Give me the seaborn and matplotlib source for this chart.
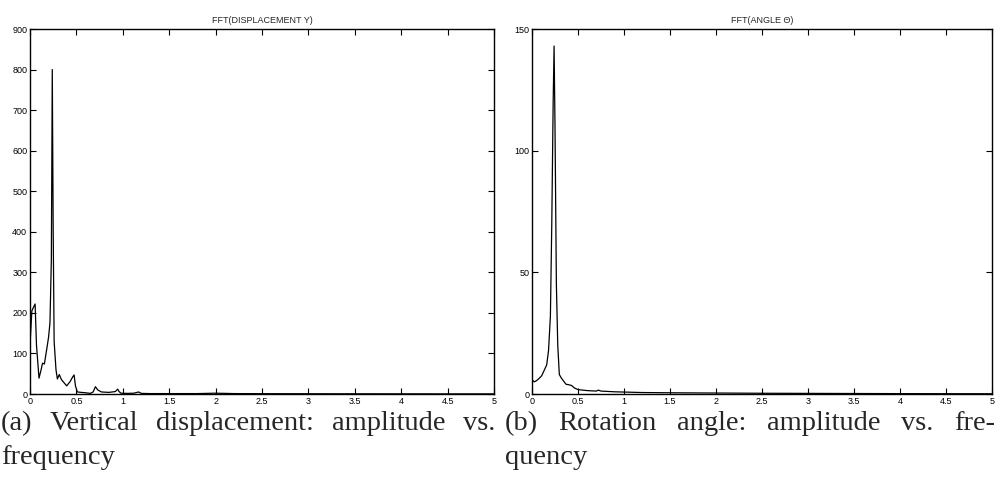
import numpy as np
import pandas as pd
import matplotlib
matplotlib.use("Agg")
import matplotlib.pyplot as plt
import seaborn as sns

# ---- data ----
freq_disp = [0.0, 0.02, 0.04, 0.055, 0.07, 0.097, 0.12, 0.135, 0.155, 0.18, 0.2, 0.215, 0.23,
             0.24, 0.25, 0.26, 0.28, 0.295, 0.315, 0.34, 0.37, 0.395, 0.43, 0.46, 0.475,
             0.49, 0.51, 0.55, 0.6, 0.65, 0.68, 0.705, 0.73, 0.77, 0.85, 0.92, 0.945, 0.96,
             0.98, 1.05, 1.12, 1.17, 1.2, 1.3, 1.5, 1.8, 2.0, 2.2, 2.5, 3.0, 3.5, 4.0, 4.5, 5.0]
amp_disp = [120, 205, 215, 222, 120, 39, 60, 76, 74, 110, 140, 175, 330,
            800, 400, 130, 60, 37, 48, 35, 27, 20, 30, 42, 47,
            20, 5, 4, 3, 1.5, 5, 18, 10, 5, 4, 6, 12, 6,
            2, 1.5, 2, 5, 1.5, 1, 1, 1, 2, 1, 0.8, 0.6, 0.5, 0.4, 0.3, 0.3]

freq_ang = [0.0, 0.01, 0.025, 0.05, 0.08, 0.105, 0.13, 0.16, 0.18, 0.2, 0.215, 0.23, 0.24,
            0.25, 0.265, 0.28, 0.297, 0.32, 0.35, 0.37, 0.4, 0.43, 0.46, 0.5, 0.6, 0.7,
            0.72, 0.75, 0.9, 1.0, 1.2, 1.5, 2.0, 2.5, 3.0, 3.5, 4.0, 4.5, 5.0]
amp_ang = [4.5, 5.5, 5.0, 5.5, 6.5, 7.5, 9.5, 12, 18, 32, 70, 120, 143,
           110, 45, 20, 8, 6.5, 5, 4, 3.8, 3.5, 2.5, 1.8, 1.4, 1.2,
           1.6, 1.2, 0.9, 0.8, 0.6, 0.5, 0.4, 0.3, 0.25, 0.2, 0.15, 0.12, 0.1]

xticks = [0, 0.5, 1, 1.5, 2, 2.5, 3, 3.5, 4, 4.5, 5]
xticklabels = ["0", "0.5", "1", "1.5", "2", "2.5", "3", "3.5", "4", "4.5", "5"]
yticks_disp = [0, 100, 200, 300, 400, 500, 600, 700, 800, 900]
yticks_ang = [0, 50, 100, 150]
titles = ["FFT(DISPLACEMENT Y)", "FFT(ANGLE \u0398)"]
caption_a = [["(a)", "Vertical", "displacement:", "amplitude", "vs."], ["frequency"]]
caption_b = [["(b)", "Rotation", "angle:", "amplitude", "vs.", "fre-"], ["quency"]]

sns.set_style("white")
plt.rcParams["font.family"] = ["Liberation Sans", "DejaVu Sans"]

W, H = 997, 483
fig = plt.figure(figsize=(W/100, H/100), dpi=100)
ax1 = fig.add_axes([30/W, 1-394/H, 464/W, 365/H])
ax2 = fig.add_axes([532/W, 1-394/H, 460/W, 365/H])

df1 = pd.DataFrame({"f": freq_disp, "a": amp_disp})
df2 = pd.DataFrame({"f": freq_ang, "a": amp_ang})
sns.lineplot(data=df1, x="f", y="a", ax=ax1, color="black", linewidth=0.9)
sns.lineplot(data=df2, x="f", y="a", ax=ax2, color="black", linewidth=0.9)

for ax, yt, ymax, title in [(ax1, yticks_disp, 900, titles[0]), (ax2, yticks_ang, 150, titles[1])]:
    ax.set_xlim(0, 5)
    ax.set_ylim(0, ymax)
    ax.set_xticks(xticks)
    ax.set_xticklabels(xticklabels)
    ax.set_yticks(yt)
    ax.set_xlabel("")
    ax.set_ylabel("")
    ax.set_title(title, fontsize=6.5, pad=4)
    ax.tick_params(direction="in", length=4, width=0.8, labelsize=6.5,
                   top=True, right=True, bottom=True, left=True, pad=2, colors="black")
    for s in ax.spines.values():
        s.set_color("black")
        s.set_linewidth(1.0)
        s.set_visible(True)

serif = ["Liberation Serif", "DejaVu Serif"]
fs = 20.5
fig.canvas.draw()
renderer = fig.canvas.get_renderer()


def place_line(words, x0, x1, y, justify):
    texts = [fig.text(0, 1 - y/H, w, fontsize=fs, family=serif, va="center", ha="left")
             for w in words]
    widths = [t.get_window_extent(renderer).width for t in texts]
    space = fs * 0.3
    if justify and len(words) > 1:
        space = (x1 - x0 - sum(widths)) / (len(words) - 1)
    x = x0
    for t, wd in zip(texts, widths):
        t.set_x(x / W)
        x += wd + space


place_line(caption_a[0], 1, 495, 424, True)
place_line(caption_a[1], 1, 495, 458, False)
place_line(caption_b[0], 505, 995, 424, True)
place_line(caption_b[1], 505, 995, 458, False)

fig.savefig("out.png", dpi=100)
